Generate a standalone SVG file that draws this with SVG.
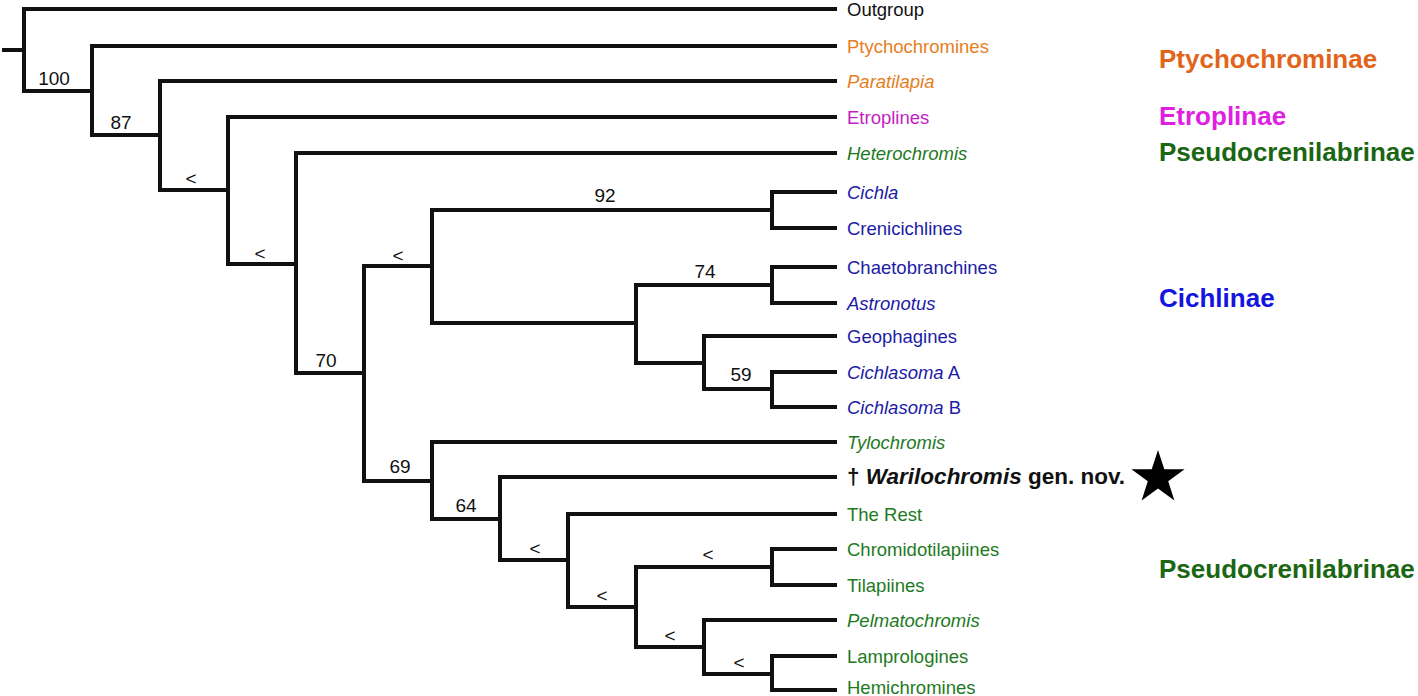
<svg xmlns="http://www.w3.org/2000/svg" width="1418" height="696" viewBox="0 0 1418 696">
<style>
.br{fill:none;stroke:#111;stroke-width:4;stroke-linejoin:miter;stroke-linecap:butt}
.tx{font-family:"Liberation Sans",Arial,sans-serif;font-size:18.5px}
.sv{font-family:"Liberation Sans",Arial,sans-serif;font-size:19px;fill:#111;text-anchor:middle}
.cl{font-family:"Liberation Sans",Arial,sans-serif;font-size:26px;font-weight:bold}
.i{font-style:italic}
.og{fill:#111}
.or{fill:#E67E22}
.mg{fill:#C21FC4}
.gr{fill:#1E7A1E}
.bl{fill:#1C1CA6}
</style>
<rect width="1418" height="696" fill="#fff"/>
<g id="connectors">
<path class="br" d="M2 50 H24"/>
<path class="br" d="M837 9 H24 V91 H92"/>
<path class="br" d="M837 46 H92 V135 H160"/>
<path class="br" d="M837 81 H160 V190 H228"/>
<path class="br" d="M837 117 H228 V264 H296"/>
<path class="br" d="M837 153 H296 V373 H364"/>
<path class="br" d="M432 266 H364 V481 H432"/>
<path class="br" d="M772 210 H432 V323 H636"/>
<path class="br" d="M837 192 H772 V228 H837"/>
<path class="br" d="M772 285 H636 V363 H704"/>
<path class="br" d="M837 267 H772 V303 H837"/>
<path class="br" d="M837 336 H704 V389 H772"/>
<path class="br" d="M837 372 H772 V407 H837"/>
<path class="br" d="M837 442 H432 V519 H500"/>
<path class="br" d="M837 477 H500 V560 H568"/>
<path class="br" d="M837 514 H568 V607 H636"/>
<path class="br" d="M772 567 H636 V647 H704"/>
<path class="br" d="M837 549 H772 V585 H837"/>
<path class="br" d="M837 620 H704 V674 H772"/>
<path class="br" d="M837 656 H772 V690 H837"/>
</g>
<g id="support">
<text class="sv" x="54" y="85">100</text>
<text class="sv" x="121" y="129">87</text>
<text class="sv" x="191" y="185">&lt;</text>
<text class="sv" x="260" y="260">&lt;</text>
<text class="sv" x="326" y="367">70</text>
<text class="sv" x="398" y="262">&lt;</text>
<text class="sv" x="605" y="202">92</text>
<text class="sv" x="705" y="278">74</text>
<text class="sv" x="741" y="381">59</text>
<text class="sv" x="400" y="473">69</text>
<text class="sv" x="466" y="512">64</text>
<text class="sv" x="535" y="555">&lt;</text>
<text class="sv" x="602" y="602">&lt;</text>
<text class="sv" x="708" y="561">&lt;</text>
<text class="sv" x="670" y="642">&lt;</text>
<text class="sv" x="739" y="669">&lt;</text>
</g>
<g id="tip-outgroup"><text class="tx og" x="847" y="15.5">Outgroup</text></g>
<g id="tip-ptychochromines"><text class="tx or" x="847" y="52.5">Ptychochromines</text></g>
<g id="tip-paratilapia"><text class="tx or i" x="847" y="87.5">Paratilapia</text></g>
<g id="tip-etroplines"><text class="tx mg" x="847" y="123.5">Etroplines</text></g>
<g id="tip-heterochromis"><text class="tx gr i" x="847" y="159.5">Heterochromis</text></g>
<g id="tip-cichla"><text class="tx bl i" x="847" y="198.5">Cichla</text></g>
<g id="tip-crenicichlines"><text class="tx bl" x="847" y="234.5">Crenicichlines</text></g>
<g id="tip-chaetobranchines"><text class="tx bl" x="847" y="273.5">Chaetobranchines</text></g>
<g id="tip-astronotus"><text class="tx bl i" x="847" y="309.5">Astronotus</text></g>
<g id="tip-geophagines"><text class="tx bl" x="847" y="342.5">Geophagines</text></g>
<g id="tip-cichlasoma-a"><text class="tx bl" x="847" y="378.5"><tspan class="i">Cichlasoma</tspan> A</text></g>
<g id="tip-cichlasoma-b"><text class="tx bl" x="847" y="413.5"><tspan class="i">Cichlasoma</tspan> B</text></g>
<g id="tip-tylochromis"><text class="tx gr i" x="847" y="448.5">Tylochromis</text></g>
<g id="tip-warilochromis"><text x="847" y="484" font-family="Liberation Sans, Arial, sans-serif" font-size="22.5" font-weight="bold" fill="#111">† <tspan font-style="italic">Warilochromis</tspan> gen. nov.</text>
<polygon points="1158,450 1164.3,469.3 1184.6,469.3 1168.2,481.2 1174.4,500.5 1158,488.6 1141.6,500.5 1147.8,481.2 1131.4,469.3 1151.7,469.3" fill="#000"/></g>
<g id="tip-therest"><text class="tx gr" x="847" y="520.5">The Rest</text></g>
<g id="tip-chromidotilapiines"><text class="tx gr" x="847" y="555.5">Chromidotilapiines</text></g>
<g id="tip-tilapiines"><text class="tx gr" x="847" y="591.5">Tilapiines</text></g>
<g id="tip-pelmatochromis"><text class="tx gr i" x="847" y="626.5">Pelmatochromis</text></g>
<g id="tip-lamprologines"><text class="tx gr" x="847" y="662.5">Lamprologines</text></g>
<g id="tip-hemichromines"><text class="tx gr" x="847" y="694">Hemichromines</text></g>
<g id="clade-ptychochrominae"><text class="cl" x="1159" y="68" fill="#E2641B">Ptychochrominae</text></g>
<g id="clade-etroplinae"><text class="cl" x="1159" y="125" fill="#E01FE0">Etroplinae</text></g>
<g id="clade-pseudocrenilabrinae-1"><text class="cl" x="1159" y="161" fill="#1A6612">Pseudocrenilabrinae</text></g>
<g id="clade-cichlinae"><text class="cl" x="1159" y="307" fill="#1414E0">Cichlinae</text></g>
<g id="clade-pseudocrenilabrinae-2"><text class="cl" x="1159" y="578" fill="#1A6612">Pseudocrenilabrinae</text></g>
</svg>
